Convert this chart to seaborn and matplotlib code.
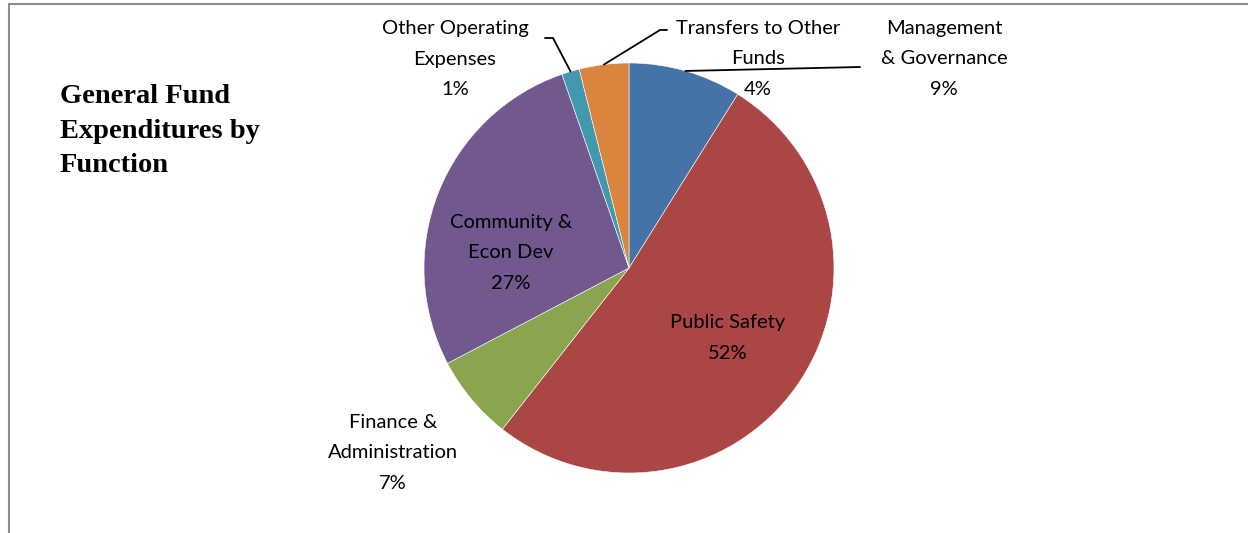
import numpy as np
import matplotlib
matplotlib.use("Agg")
import matplotlib.pyplot as plt
from matplotlib.lines import Line2D
import seaborn as sns

# General fund spending by function (percent of total)
categories = ["Management\n& Governance", "Public Safety", "Finance &\nAdministration",
              "Community &\nEcon Dev", "Other Operating\nExpenses", "Transfers to Other\nFunds"]
shares = [8.9, 51.7, 6.7, 27.4, 1.4, 3.9]
slice_colors = ["#4572A7", "#AA4643", "#89A54E", "#71588F", "#4198AF", "#DB843D"]
title_text = "General Fund\nExpenditures by\nFunction"

sns.set_theme(style="white")
plt.rcParams["font.family"] = ["Lato", "DejaVu Sans"]

W, H = 1248, 533
fig = plt.figure(figsize=(W / 100, H / 100), dpi=100)
fig.patch.set_facecolor("white")

# pie axes: centre (629, 268) px, radius 205 px
cx, cy, r = 629, 268, 205
ax = fig.add_axes([(cx - r) / W, (H - cy - r) / H, 2 * r / W, 2 * r / H])

palette = sns.color_palette(slice_colors)
wedges, _ = ax.pie(shares, colors=palette, startangle=90, counterclock=False,
                   radius=1.0, center=(0, 0),
                   wedgeprops=dict(edgecolor="white", linewidth=0.4))
ax.set_xlim(-1, 1)
ax.set_ylim(-1, 1)
ax.set_aspect("equal")
ax.axis("off")

def pct(v):
    return f"{v:.0f}%"

def px(x, y):
    return ((x - cx) / r, (cy - y) / r)

def mid_edge(w):
    ang = np.deg2rad((w.theta1 + w.theta2) / 2)
    return np.cos(ang), np.sin(ang)

fs = 14.5
lsp = 1.95
# label placements (pixel centres of text blocks)
label_pos = [(944, 59), (728, 338), (393, 453), (511, 253), (455, 59), (758, 59)]
for i, (lab, val) in enumerate(zip(categories, shares)):
    x, y = px(*label_pos[i])
    ax.text(x, y, f"{lab}\n{pct(val)}", ha="center", va="center", fontsize=fs,
            color="black", linespacing=lsp, clip_on=False)

# leader lines
lw = 1.3
ex, ey = mid_edge(wedges[0])
a = px(860, 67)
ax.add_line(Line2D([ex, a[0]], [ey, a[1]], color="black", lw=lw, clip_on=False))

ex, ey = mid_edge(wedges[5])
b1, b2 = px(660, 30), px(667, 30)
ax.add_line(Line2D([ex, b1[0], b2[0]], [ey, b1[1], b2[1]], color="black", lw=lw, clip_on=False))

ex, ey = mid_edge(wedges[4])
c1, c2 = px(553, 38), px(545, 38)
ax.add_line(Line2D([ex, c1[0], c2[0]], [ey, c1[1], c2[1]], color="black", lw=lw, clip_on=False))

# title
fig.text(60 / W, 1 - 84 / H, title_text, ha="left", va="top", fontsize=20.5, color="black",
         fontweight="bold", family=["Liberation Serif", "DejaVu Serif"], linespacing=1.5)

# chart-area border (top and left edges)
border = "#8c8c8c"
fig.add_artist(Line2D([8.5 / W, 1], [1 - 3.5 / H, 1 - 3.5 / H], color=border, lw=1.5,
                      transform=fig.transFigure))
fig.add_artist(Line2D([8.5 / W, 8.5 / W], [0, 1 - 3.5 / H], color=border, lw=1.5,
                      transform=fig.transFigure))

fig.savefig("out.png", dpi=100, facecolor="white")
